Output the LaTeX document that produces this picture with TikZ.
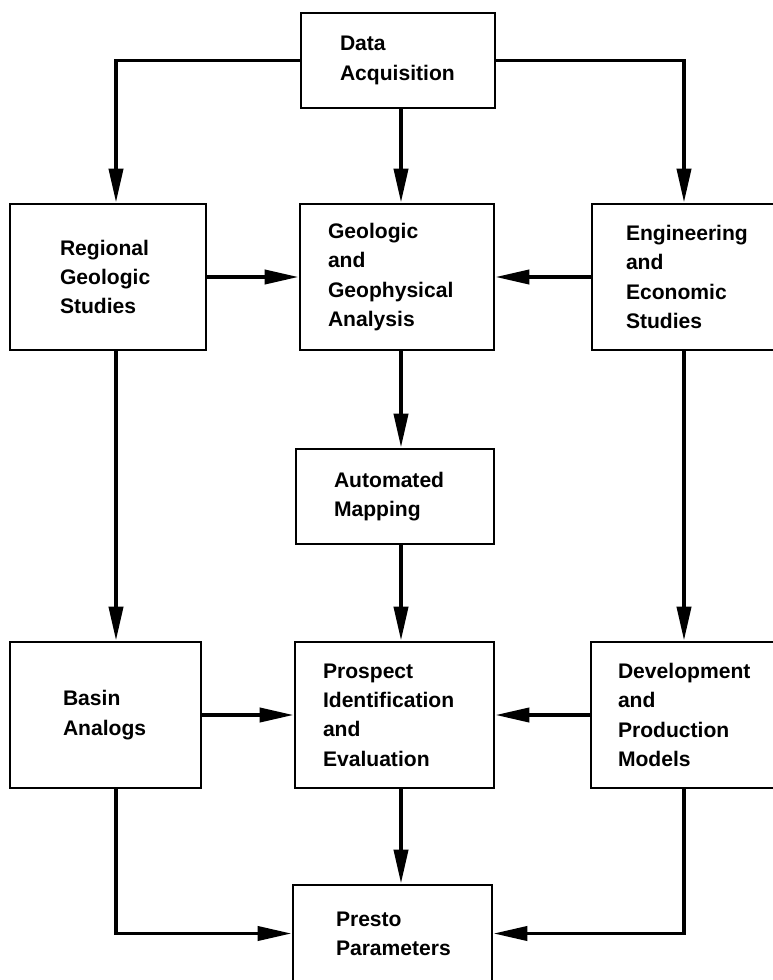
\documentclass[tikz,border=0pt]{standalone}
\usepackage{fontspec}
\setmainfont{Liberation Sans}
\usetikzlibrary{arrows.meta}
\newlength\unitpx
\setlength\unitpx{0.03cm}

\begin{document}
\begin{tikzpicture}[x=0.03cm,y=-0.03cm,
    box/.style={draw,line width=2.4pt,align=left,inner sep=0pt,
      font=\bfseries\fontsize{18}{25}\selectfont},
    flow/.style={line width=3.2pt,-{Triangle[length=29pt,width=12pt]}}]
  \useasboundingbox (0,0) rectangle (772,980);
  % columns of the connectors
  \coordinate (lcol) at (116,0);
  \coordinate (mcol) at (401,0);
  \coordinate (rcol) at (684,0);
  % boxes
  \node [box,minimum width=194\unitpx,minimum height=95\unitpx,text width=116\unitpx]
    (da) at (398,60.5) {Data\\Acquisition};
  \node [box,minimum width=196\unitpx,minimum height=146\unitpx,text width=96\unitpx]
    (rg) at (108,277) {Regional\\Geologic\\Studies};
  \node [box,minimum width=194\unitpx,minimum height=146\unitpx,text width=138\unitpx]
    (gg) at (397,277) {Geologic\\and\\Geophysical\\Analysis};
  \node [box,minimum width=210\unitpx,minimum height=146\unitpx,text width=142\unitpx]
    (ee) at (697,277) {Engineering\\and\\Economic\\Studies};
  \node [box,minimum width=198\unitpx,minimum height=95\unitpx,text width=122\unitpx]
    (am) at (395,496.5) {Automated\\Mapping};
  \node [box,minimum width=191\unitpx,minimum height=146\unitpx,text width=85\unitpx]
    (ba) at (105.5,715) {Basin\\Analogs};
  \node [box,minimum width=199\unitpx,minimum height=146\unitpx,text width=143\unitpx]
    (pi) at (394.5,715) {Prospect\\Identification\\and\\Evaluation};
  \node [box,minimum width=210\unitpx,minimum height=146\unitpx,text width=156\unitpx]
    (dp) at (696,715) {Development\\and\\Production\\Models};
  \node [box,minimum width=199\unitpx,minimum height=97\unitpx,text width=113\unitpx]
    (pp) at (392.5,933.5) {Presto\\Parameters};
  % connectors
  \draw [flow] (da.west) -| (rg.north -| lcol);
  \draw [flow] (da.east) -| (ee.north -| rcol);
  \draw [flow] (da.south -| mcol) -- (gg.north -| mcol);
  \draw [flow] (rg.east) -- (gg.west);
  \draw [flow] (ee.west) -- (gg.east);
  \draw [flow] (gg.south -| mcol) -- (am.north -| mcol);
  \draw [flow] (am.south -| mcol) -- (pi.north -| mcol);
  \draw [flow] (rg.south -| lcol) -- (ba.north -| lcol);
  \draw [flow] (ee.south -| rcol) -- (dp.north -| rcol);
  \draw [flow] (ba.east) -- (pi.west);
  \draw [flow] (dp.west) -- (pi.east);
  \draw [flow] (pi.south -| mcol) -- (pp.north -| mcol);
  \draw [flow] (ba.south -| lcol) |- (pp.west);
  \draw [flow] (dp.south -| rcol) |- (pp.east);
\end{tikzpicture}
\end{document}
